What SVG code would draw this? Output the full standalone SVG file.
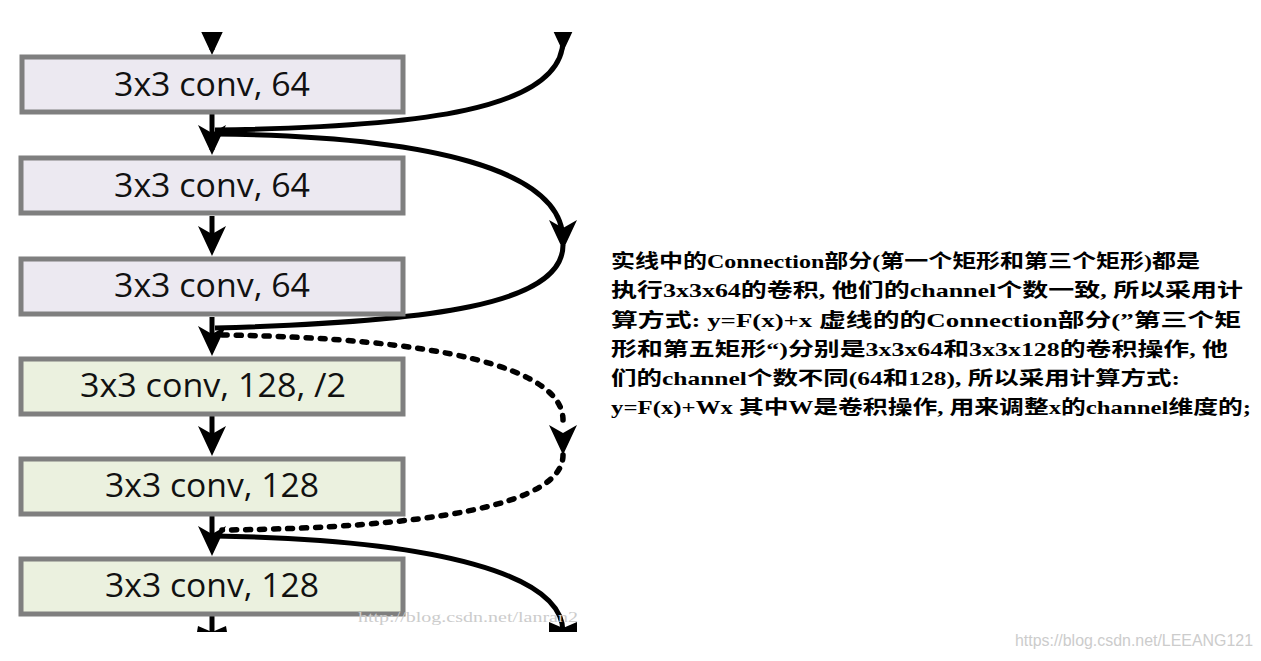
<svg xmlns="http://www.w3.org/2000/svg" width="1261" height="661" viewBox="0 0 1261 661">
<style>
.box{stroke:#7f7f7f;stroke-width:5}
.b1{fill:#ece9f1}.b2{fill:#ebf1df}
.lbl{font-family:"Open Sans","Liberation Sans",sans-serif;font-size:33px;fill:#111;text-anchor:middle}
.ln{fill:none;stroke:#000;stroke-width:5}
.dot{fill:none;stroke:#000;stroke-width:5.5;stroke-dasharray:5 9;stroke-linecap:round}
.note{font-family:"Liberation Serif","Noto Sans CJK SC",serif;font-size:19px;fill:#000;font-weight:bold}
.wm{font-family:"Liberation Serif",serif;fill:#ccc}
</style>
<defs>
<path id="ah" d="M-14,-30 L0,-22 L14,-30 L0,0 Z" fill="#000"/>
</defs>
<rect width="1261" height="661" fill="#fff"/>
<g id="connectors">
<line class="ln" x1="212" y1="32" x2="212" y2="50"/>
<use href="#ah" x="212" y="55"/>
<line class="ln" x1="212" y1="114" x2="212" y2="150"/>
<use href="#ah" x="212" y="155"/>
<line class="ln" x1="212" y1="216" x2="212" y2="250"/>
<use href="#ah" x="212" y="256"/>
<line class="ln" x1="212" y1="317" x2="212" y2="350"/>
<use href="#ah" x="212" y="356"/>
<line class="ln" x1="212" y1="415" x2="212" y2="450"/>
<use href="#ah" x="212" y="456"/>
<line class="ln" x1="212" y1="516" x2="212" y2="550"/>
<use href="#ah" x="212" y="556"/>
<line class="ln" x1="212" y1="616" x2="212" y2="632"/>
<path d="M198,626 L212,632 L226,626 L227,632 L197,632 Z" fill="#000"/>
<path class="ln" d="M563,40 C563,110 420,127 215,130"/>
<use href="#ah" x="563" y="52"/>
<path class="ln" d="M215,134 C430,136 563,170 563,240"/>
<use href="#ah" x="563" y="250"/>
<path class="ln" d="M563,245 C563,305 430,322 215,328"/>
<path class="dot" d="M222,335 C440,338 563,368 563,420"/>
<use href="#ah" x="563" y="455"/>
<path class="dot" d="M563,455 C563,505 430,528 222,530"/>
<path class="ln" d="M215,536 C440,540 563,575 563,632"/>
<path d="M549,622 L563,628 L577,622 L577,632 L549,632 Z" fill="#000"/>
<rect x="0" y="0" width="1261" height="32" fill="#fff"/>
<rect x="540" y="632" width="50" height="10" fill="#fff"/>
</g>
<g id="n1"><rect class="box b1" x="22" y="57" width="381" height="55"/><text class="lbl" x="212" y="96" textLength="196" lengthAdjust="spacingAndGlyphs">3x3 conv, 64</text></g>
<g id="n2"><rect class="box b1" x="21" y="158" width="382" height="55"/><text class="lbl" x="212" y="197" textLength="196" lengthAdjust="spacingAndGlyphs">3x3 conv, 64</text></g>
<g id="n3"><rect class="box b1" x="21" y="259" width="382" height="55"/><text class="lbl" x="212" y="297" textLength="196" lengthAdjust="spacingAndGlyphs">3x3 conv, 64</text></g>
<g id="n4"><rect class="box b2" x="21" y="359" width="382" height="55"/><text class="lbl" x="213" y="397" textLength="266" lengthAdjust="spacingAndGlyphs">3x3 conv, 128, /2</text></g>
<g id="n5"><rect class="box b2" x="21" y="459" width="382" height="55"/><text class="lbl" x="212" y="497" textLength="214" lengthAdjust="spacingAndGlyphs">3x3 conv, 128</text></g>
<g id="n6"><rect class="box b2" x="21" y="559" width="382" height="55"/><text class="lbl" x="212" y="597" textLength="214" lengthAdjust="spacingAndGlyphs">3x3 conv, 128</text></g>
<g id="note">
<text class="note" x="611" y="268" textLength="589" lengthAdjust="spacingAndGlyphs">实线中的Connection部分(第一个矩形和第三个矩形)都是</text>
<text class="note" x="611" y="297" textLength="632" lengthAdjust="spacingAndGlyphs">执行3x3x64的卷积, 他们的channel个数一致, 所以采用计</text>
<text class="note" x="611" y="327" textLength="630" lengthAdjust="spacingAndGlyphs">算方式:  y=F(x)+x 虚线的的Connection部分(”第三个矩</text>
<text class="note" x="611" y="356" textLength="617" lengthAdjust="spacingAndGlyphs">形和第五矩形“)分别是3x3x64和3x3x128的卷积操作, 他</text>
<text class="note" x="611" y="385" textLength="569" lengthAdjust="spacingAndGlyphs">们的channel个数不同(64和128), 所以采用计算方式:</text>
<text class="note" x="611" y="414" textLength="640" lengthAdjust="spacingAndGlyphs">y=F(x)+Wx 其中W是卷积操作, 用来调整x的channel维度的;</text>
</g>
<text class="wm" x="358" y="622" font-size="14" textLength="220" lengthAdjust="spacingAndGlyphs">http://blog.csdn.net/lanran2</text>
<text class="wm" x="1015" y="646" font-size="16" style="font-family:'Liberation Sans',sans-serif" textLength="238" lengthAdjust="spacingAndGlyphs">https://blog.csdn.net/LEEANG121</text>
</svg>
